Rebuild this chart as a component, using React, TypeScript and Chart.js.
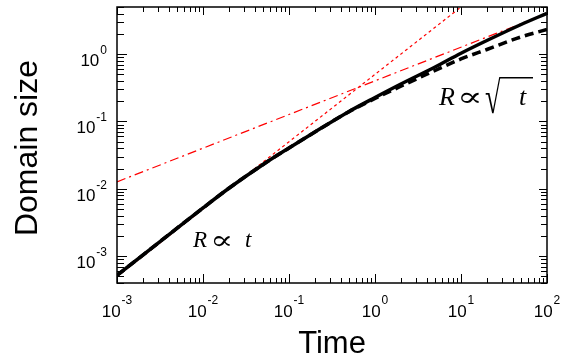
import React, { useEffect, useRef } from 'react';
import { Chart, registerables } from 'chart.js';

Chart.register(...registerables);

// ---- data ----
const timeValues = [1e-3, 1e-2, 0.02, 0.05, 0.1, 0.2, 0.5, 1, 2, 5, 10, 20, 50, 100];
const solidSize = [5.2e-4, 5.2e-3, 0.0102, 0.023, 0.0404, 0.0698, 0.141, 0.227, 0.36, 0.644, 1.03, 1.59, 2.75, 4.03];
const dashedSize = [5.2e-4, 5.2e-3, 0.0102, 0.023, 0.0404, 0.0698, 0.14, 0.219, 0.333, 0.571, 0.846, 1.17, 1.8, 2.32];
const linearTime = [1e-3, 10];
const linearSize = [5e-4, 5];
const sqrtTime = [1e-3, 100];
const sqrtSize = [0.0127, 4.0];
const xTickExponents = [-3, -2, -1, 0, 1, 2];
const yTickExponents = [-3, -2, -1, 0];
const xTitle = 'Time';
const yTitle = 'Domain size';

const X_MIN = 1e-3;
const X_MAX = 100;
const Y_MIN = 4e-4;
const Y_MAX = 5;

const pts = (xs: number[], ys: number[]) => xs.map((x, i) => ({ x, y: ys[i] }));

const SANS = '"Liberation Sans", Arial, sans-serif';
const SERIF = '"Liberation Serif", "DejaVu Serif", serif';
const SYM = '"DejaVu Serif", serif';

function drawPower(ctx: CanvasRenderingContext2D, exp: number, x: number, baseY: number, expY: number, mode: 'center' | 'right') {
  const base = '10';
  const ex = String(exp);
  ctx.font = `17px ${SANS}`;
  const wb = ctx.measureText(base).width;
  ctx.font = `12px ${SANS}`;
  const we = ctx.measureText(ex).width;
  const total = wb + 1 + we;
  const start = mode === 'center' ? x - total / 2 : x - total;
  ctx.textAlign = 'left';
  ctx.textBaseline = 'alphabetic';
  ctx.font = `17px ${SANS}`;
  ctx.fillText(base, start, baseY);
  ctx.font = `12px ${SANS}`;
  ctx.fillText(ex, start + wb + 1, expY);
}

// draw a glyph so that its ink box fills the given rectangle
function fitText(ctx: CanvasRenderingContext2D, text: string, font: string, x0: number, x1: number, y0: number, y1: number) {
  ctx.font = font;
  ctx.textAlign = 'left';
  ctx.textBaseline = 'alphabetic';
  const m = ctx.measureText(text);
  const L = m.actualBoundingBoxLeft;
  const R = m.actualBoundingBoxRight;
  const A = m.actualBoundingBoxAscent;
  const D = m.actualBoundingBoxDescent;
  const sx = (x1 - x0) / (L + R);
  const sy = (y1 - y0) / (A + D);
  ctx.save();
  ctx.translate(x0 + L * sx, y0 + A * sy);
  ctx.scale(sx, sy);
  ctx.fillText(text, 0, 0);
  ctx.restore();
}

const decorPlugin = {
  id: 'decor',
  afterDraw(chart: any) {
    const { ctx, chartArea: a, scales } = chart;
    const xs = scales.x;
    const ys = scales.y;
    ctx.save();
    ctx.strokeStyle = '#000';
    ctx.fillStyle = '#000';
    ctx.lineWidth = 1;
    const seg = (x1: number, y1: number, x2: number, y2: number) => {
      ctx.beginPath();
      ctx.moveTo(x1, y1);
      ctx.lineTo(x2, y2);
      ctx.stroke();
    };
    // x ticks (bottom & top, inward)
    for (let d = -3; d <= 2; d++) {
      for (let m = 1; m <= 9; m++) {
        const v = m * Math.pow(10, d);
        if (v > X_MAX * 1.0001) break;
        const px = Math.round(xs.getPixelForValue(v)) + 0.5;
        const major = m === 1;
        seg(px, a.bottom, px, a.bottom - (major ? 9 : 5));
        seg(px, a.top, px, a.top + (major ? 8 : 5));
      }
    }
    // y ticks (left & right, inward)
    for (let d = -4; d <= 0; d++) {
      for (let m = 1; m <= 9; m++) {
        const v = m * Math.pow(10, d);
        if (v < Y_MIN * 0.9999 || v > Y_MAX * 1.0001) continue;
        const py = Math.round(ys.getPixelForValue(v)) + 0.5;
        const major = m === 1;
        seg(a.left, py, a.left + (major ? 10 : 7), py);
        seg(a.right, py, a.right - (major ? 8 : 6), py);
      }
    }
    // frame
    ctx.lineWidth = 1.5;
    ctx.strokeRect(a.left, a.top, a.right - a.left, a.bottom - a.top);

    // tick labels
    xTickExponents.forEach((e) => {
      const px = xs.getPixelForValue(Math.pow(10, e));
      drawPower(ctx, e, px, a.bottom + 34, a.bottom + 21, 'center');
    });
    yTickExponents.forEach((e) => {
      const py = ys.getPixelForValue(Math.pow(10, e));
      drawPower(ctx, e, a.left - 10, py + 12, py, 'right');
    });

    // axis titles
    ctx.font = `31px ${SANS}`;
    ctx.textAlign = 'center';
    ctx.textBaseline = 'alphabetic';
    ctx.fillText(xTitle, (a.left + a.right) / 2, 353);
    ctx.save();
    ctx.translate(37, (a.top + a.bottom) / 2 + 3);
    ctx.rotate(-Math.PI / 2);
    ctx.font = `32px ${SANS}`;
    ctx.fillText(yTitle, 0, 0);
    ctx.restore();

    // annotation: R ∝ t
    ctx.textAlign = 'left';
    ctx.font = `italic 23px ${SERIF}`;
    ctx.fillText('R', 193, 247);
    fitText(ctx, '\u221D', `24px ${SYM}`, 213, 230, 235.5, 246.5);
    ctx.font = `italic 23px ${SERIF}`;
    ctx.fillText('t', 245, 247);

    // annotation: R ∝ √t
    ctx.font = `italic 26px ${SERIF}`;
    ctx.fillText('R', 439, 105);
    fitText(ctx, '\u221D', `26px ${SYM}`, 460, 479, 92, 103.5);
    fitText(ctx, '\u221A', `30px ${SERIF}`, 485, 501, 77, 115);
    ctx.lineWidth = 1.4;
    seg(500, 77.7, 533, 77.7);
    ctx.font = `italic 26px ${SERIF}`;
    ctx.fillText('t', 519, 105);
    ctx.restore();
  },
};

export default function App() {
  const ref = useRef<HTMLCanvasElement>(null);
  useEffect(() => {
    if (!ref.current) return;
    const chart = new Chart(ref.current, {
      type: 'line',
      data: {
        datasets: [
          {
            label: 'simulation',
            data: pts(timeValues, solidSize),
            borderColor: '#000',
            borderWidth: 3.5,
            pointRadius: 0,
            cubicInterpolationMode: 'monotone',
          },
          {
            label: 'model',
            data: pts(timeValues, dashedSize),
            borderColor: '#000',
            borderWidth: 3.5,
            borderDash: [9, 5],
            pointRadius: 0,
            cubicInterpolationMode: 'monotone',
          },
          {
            label: 'R ∝ t',
            data: pts(linearTime, linearSize),
            borderColor: '#ff0000',
            borderWidth: 1.2,
            borderDash: [3, 3],
            pointRadius: 0,
          },
          {
            label: 'R ∝ √t',
            data: pts(sqrtTime, sqrtSize),
            borderColor: '#ff0000',
            borderWidth: 1.2,
            borderDash: [9, 4, 2, 4],
            pointRadius: 0,
          },
        ],
      },
      options: {
        responsive: false,
        animation: false,
        devicePixelRatio: 1,
        layout: { padding: { left: 117, right: 17, top: 7, bottom: 77 } },
        plugins: { legend: { display: false }, tooltip: { enabled: false } },
        scales: {
          x: { type: 'logarithmic', min: X_MIN, max: X_MAX, display: false },
          y: { type: 'logarithmic', min: Y_MIN, max: Y_MAX, display: false },
        },
      },
      plugins: [decorPlugin],
    } as any);
    return () => chart.destroy();
  }, []);
  return (
    <canvas
      ref={ref}
      width={564}
      height={360}
      style={{ position: 'fixed', left: 0, top: 0, width: 564, height: 360, background: '#fff' }}
    />
  );
}
